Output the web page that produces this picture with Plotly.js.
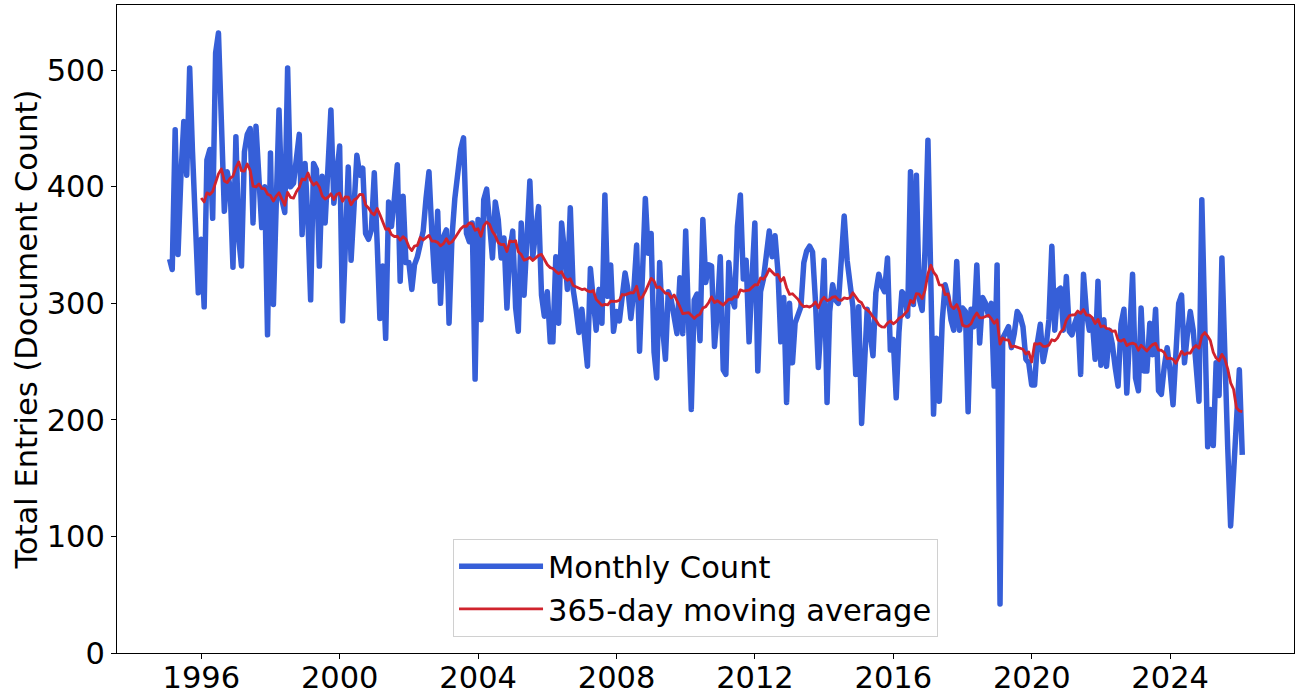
<!DOCTYPE html>
<html>
<head>
<meta charset="utf-8">
<script src="https://cdn.plot.ly/plotly-3.0.1.min.js"></script>
<style>
  html, body { margin: 0; padding: 0; background: #ffffff; }
  #chart { width: 1296px; height: 694px; }
  .scatterlayer .js-line { stroke-linejoin: round; }
</style>
</head>
<body>
<div id="chart"></div>
<script>
// Monthly document counts, one value per month (month-end dates), Jan 1995 - Jan 2026
const firstYear = 1995;
const counts1995to1999 = [
  338,329,449,342,410,456,410,502,430,355,309,355,
  297,423,432,373,515,532,460,379,413,400,331,443,
  355,332,430,445,450,369,452,410,365,400,273,429,
  299,380,466,389,378,502,400,403,430,445,359,420,
  370,303,420,415,332,409,369,420,466,386,410,435
];
const counts2000to2004 = [
  285,350,417,337,380,427,410,416,360,355,363,412,
  350,287,332,270,387,366,390,419,319,392,335,335,
  312,333,340,350,362,390,413,360,319,379,300,357,
  363,283,357,390,412,432,442,360,353,369,235,372,
  286,389,398,365,339,387,372,339,356,296,345,362
];
const counts2005to2009 = [
  296,276,369,307,350,405,340,365,383,307,289,310,
  267,267,340,283,369,345,312,382,312,295,275,295,
  274,246,330,298,277,312,283,393,306,333,276,293,
  285,305,326,312,287,310,350,259,330,390,343,360,
  258,236,335,280,252,310,303,290,274,322,274,362
];
const counts2010to2014 = [
  266,209,303,308,268,372,318,333,332,263,293,340,
  243,239,335,305,297,366,393,321,337,267,320,369,
  242,310,321,345,362,340,358,327,267,305,215,300,
  249,283,290,297,335,345,349,344,303,245,285,337,
  215,293,316,303,300,340,375,337,312,297,239,297
];
const counts2015to2019 = [
  197,241,295,275,255,309,325,315,310,339,260,269,
  219,275,310,307,289,413,299,410,304,294,345,440,
  306,205,270,216,285,316,306,286,277,336,277,296,
  293,207,295,280,333,266,305,300,290,300,229,333,
  42,270,275,280,262,274,293,289,280,252,249,230
];
const counts2020to2024 = [
  230,266,282,250,263,286,349,277,311,313,277,323,
  276,273,283,290,239,325,292,277,286,252,319,247,
  286,246,277,265,245,229,282,295,223,270,325,236,
  225,296,242,242,283,256,295,225,222,246,262,242,
  213,255,300,307,249,273,293,277,250,216,389,277
];
const counts2025to2026 = [
  177,209,178,249,221,339,243,175,109,150,200,243,
  170
];

const tickYears = ['1996','2000','2004','2008','2012','2016','2020','2024'];
const yTicks = [0, 100, 200, 300, 400, 500];
const seriesNames = ['Monthly Count', '365-day moving average'];
const yTitle = 'Total Entries (Document Count)';

const counts = [].concat(counts1995to1999, counts2000to2004, counts2005to2009,
  counts2010to2014, counts2015to2019, counts2020to2024, counts2025to2026);

// month-end dates for each observation
function monthEnd(i) {
  const y = firstYear + Math.floor(i / 12);
  const m = i % 12;
  const d = new Date(Date.UTC(y, m + 1, 0)).getUTCDate();
  return y + '-' + String(m + 1).padStart(2, '0') + '-' + String(d).padStart(2, '0');
}
const dates = counts.map((_, i) => monthEnd(i));

// 365-day (12 monthly observations) trailing mean
const maX = [], maY = [];
for (let i = 11; i < counts.length; i++) {
  let s = 0;
  for (let k = i - 11; k <= i; k++) s += counts[k];
  maX.push(dates[i]);
  maY.push(s / 12);
}

const FONT = 'DejaVu Sans, Liberation Sans, sans-serif';
const FS = 30.5;

const traces = [
  {
    x: dates, y: counts, type: 'scatter', mode: 'lines',
    name: seriesNames[0], legendgroup: 'a',
    line: { color: '#365fd8', width: 5.5 },
    hoverinfo: 'skip'
  },
  {
    x: maX, y: maY, type: 'scatter', mode: 'lines',
    name: seriesNames[1], legendgroup: 'b',
    line: { color: '#d0232d', width: 2.8 },
    hoverinfo: 'skip'
  }
];

const axisCommon = {
  showgrid: false, zeroline: false,
  showline: true, linecolor: '#000000', linewidth: 1, mirror: true,
  ticks: 'outside', ticklen: 5, tickwidth: 1, tickcolor: '#000000',
  tickfont: { family: FONT, size: FS, color: '#000000' }
};

const layout = {
  width: 1296, height: 694,
  margin: { l: 117, r: 2, t: 5, b: 41, pad: 0 },
  paper_bgcolor: '#ffffff', plot_bgcolor: '#ffffff',
  font: { family: FONT, size: FS, color: '#000000' },
  showlegend: true,
  legend: {
    x: 0.2855, y: 0.0247, xanchor: 'left', yanchor: 'bottom',
    bgcolor: '#ffffff', bordercolor: '#d0d0d0', borderwidth: 1,
    font: { family: FONT, size: FS, color: '#000000' },
    itemwidth: 84, tracegroupgap: 7,
    traceorder: 'normal'
  },
  xaxis: Object.assign({}, axisCommon, {
    type: 'date',
    range: ['1993-07-25', '2027-07-31'],
    tickvals: tickYears.map(y => y + '-01-01'),
    ticktext: tickYears,
    ticklabelstandoff: -8
  }),
  yaxis: Object.assign({}, axisCommon, {
    range: [0, 556],
    tickvals: yTicks,
    ticktext: yTicks.map(String),
    title: { text: yTitle, font: { family: FONT, size: FS, color: '#000000' }, standoff: 0 }
  })
};

Plotly.newPlot('chart', traces, layout, { staticPlot: true, displayModeBar: false });
</script>
</body>
</html>
